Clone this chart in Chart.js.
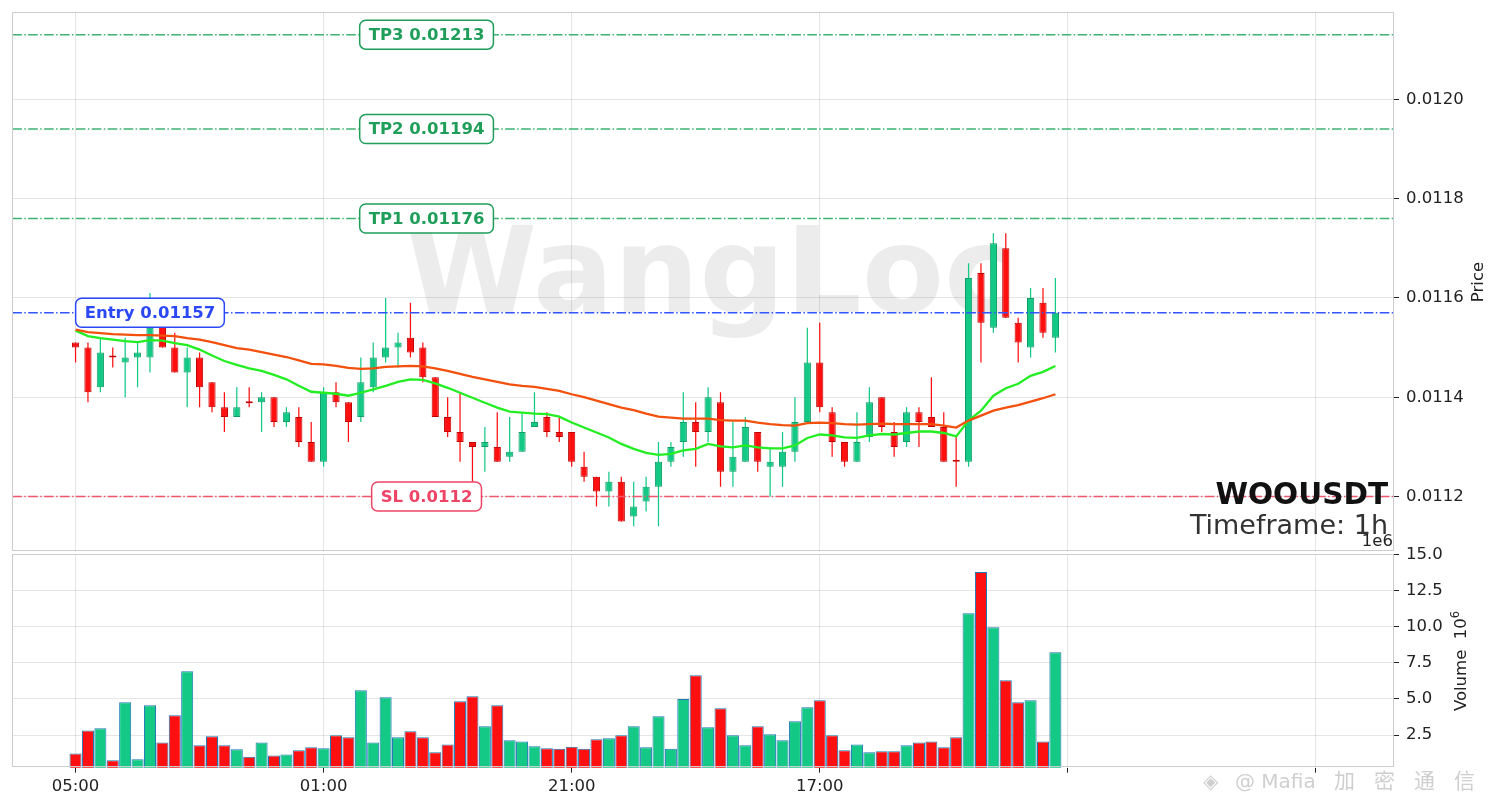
<!DOCTYPE html>
<html>
<head>
<meta charset="utf-8">
<title>WOOUSDT 1h</title>
<script src="https://cdn.jsdelivr.net/npm/chart.js@4.4.1/dist/chart.umd.min.js"></script>
<style>
html, body { margin:0; padding:0; background:#fff; overflow:hidden; }
#wrap { position:relative; width:1501px; height:808px; background:#fff; }
#wrap canvas { position:absolute; left:0; }
#priceCanvas { top:0; }
#volCanvas { top:520px; }
</style>
</head>
<body>
<div id="wrap">
<canvas id="priceCanvas" width="1501" height="553"></canvas>
<canvas id="volCanvas" width="1501" height="288"></canvas>
</div>
<script>
// ---------------- data ----------------
const symbol = 'WOOUSDT';
const timeframe = '1h';
const watermarkText = 'WangLoc';
const footerText = '@ Mafia 加密通信';

const xTickPositions = [0, 20, 40, 60, 80, 100];
const xTickLabels = ['05:00', '01:00', '21:00', '17:00', '', ''];

const opens = [0.01151,0.01150,0.01142,0.011482,0.01147,0.01148,0.01148,0.01155,0.01150,0.01145,
0.01148,0.01143,0.01138,0.01136,0.011392,0.01139,0.01140,0.01135,0.01136,0.01131,
0.01127,0.01141,0.01139,0.01136,0.01142,0.01148,0.01150,0.01152,0.01150,0.01144,
0.01136,0.01133,0.01131,0.01130,0.01130,0.01128,0.01129,0.01134,0.01136,0.01133,
0.01133,0.01126,0.01124,0.01121,0.01123,0.01116,0.01119,0.01122,0.01127,0.01131,
0.01135,0.01133,0.01139,0.01125,0.01127,0.01133,0.01126,0.01126,0.01129,0.01135,
0.01147,0.01137,0.01131,0.01127,0.01132,0.01140,0.01133,0.01131,0.01137,0.01136,
0.01134,0.011272,0.01127,0.01165,0.01154,0.01170,0.01155,0.01150,0.01159,0.01152];

const highs = [0.01151,0.01151,0.01152,0.01150,0.01152,0.01151,0.01161,0.01156,0.01153,0.01150,
0.01149,0.01143,0.01141,0.01142,0.01142,0.01141,0.01140,0.01138,0.01138,0.01135,
0.01142,0.01143,0.01139,0.01148,0.01151,0.01160,0.01153,0.01159,0.01151,0.01144,
0.01140,0.01141,0.01131,0.01134,0.01137,0.01136,0.01137,0.01141,0.01137,0.01136,
0.01133,0.01129,0.01124,0.01125,0.01124,0.01123,0.01124,0.01131,0.01131,0.01141,
0.01139,0.01142,0.01141,0.01135,0.01136,0.01133,0.01130,0.01133,0.01140,0.01154,
0.01155,0.01138,0.01131,0.01137,0.01142,0.01140,0.01135,0.01138,0.01138,0.01144,
0.01137,0.01132,0.01167,0.01167,0.01173,0.01173,0.01156,0.01162,0.01162,0.01164];

const lows = [0.01147,0.01139,0.01141,0.01146,0.01140,0.01142,0.01145,0.01150,0.01145,0.01138,
0.01138,0.01137,0.01133,0.01136,0.01138,0.01133,0.01134,0.01134,0.01130,0.01127,
0.01126,0.01138,0.01131,0.01135,0.01141,0.01147,0.01146,0.01148,0.01143,0.01136,
0.01132,0.01127,0.01123,0.01125,0.01127,0.01127,0.01129,0.01134,0.01132,0.01131,
0.01126,0.01123,0.01118,0.01118,0.01115,0.01114,0.01117,0.01114,0.01126,0.01128,
0.01126,0.01131,0.01122,0.01122,0.01127,0.01125,0.01120,0.01122,0.01127,0.01135,
0.01137,0.01128,0.01126,0.01127,0.01131,0.01133,0.01128,0.01130,0.01130,0.01134,
0.01127,0.01122,0.01126,0.01147,0.01153,0.01156,0.01147,0.01148,0.01152,0.01149];

const closes = [0.01150,0.01141,0.01149,0.01148,0.01148,0.01149,0.01154,0.01150,0.01145,0.01148,
0.01142,0.01138,0.01136,0.01138,0.011388,0.01140,0.01135,0.01137,0.01131,0.01127,
0.01141,0.01139,0.01135,0.01143,0.01148,0.01150,0.01151,0.01149,0.01144,0.01136,
0.01133,0.01131,0.01130,0.01131,0.01127,0.01129,0.01133,0.01135,0.01133,0.01132,
0.01127,0.01124,0.01121,0.01123,0.01115,0.01118,0.01122,0.01127,0.01130,0.01135,
0.01133,0.01140,0.01125,0.01128,0.01134,0.01127,0.01127,0.01129,0.01135,0.01147,
0.01138,0.01131,0.01127,0.01131,0.01139,0.01134,0.01130,0.01137,0.01135,0.01134,
0.01127,0.01127,0.01164,0.01155,0.01171,0.01156,0.01151,0.01160,0.01153,0.01157];

const volumes = [1230000,2820000,2960000,750000,4760000,820000,4560000,1990000,3860000,6910000,
1790000,2410000,1790000,1510000,1000000,1990000,1090000,1160000,1440000,1650000,
1580000,2480000,2340000,5600000,1990000,5110000,2340000,2760000,2340000,1300000,
1850000,4830000,5180000,3100000,4560000,2130000,2060000,1720000,1580000,1550000,
1690000,1550000,2200000,2270000,2480000,3100000,1650000,3790000,1550000,5000000,
6640000,3030000,4350000,2480000,1790000,3100000,2550000,2130000,3450000,4420000,
4900000,2480000,1440000,1850000,1300000,1370000,1370000,1790000,1990000,2060000,
1650000,2340000,10930000,13770000,9950000,6280000,4760000,4900000,2060000,8220000];

const emaFast = [0.011534,0.011523,0.011519,0.011516,0.011513,0.011511,0.011515,0.011514,0.011509,0.011505,
0.011496,0.011484,0.011473,0.011465,0.011458,0.011453,0.011445,0.011436,0.011423,0.011411,
0.011409,0.011407,0.011403,0.011409,0.011416,0.011423,0.011431,0.011436,0.011435,0.011428,
0.011419,0.011409,0.011399,0.011389,0.011379,0.011371,0.011369,0.011367,0.011366,0.011361,
0.011349,0.011339,0.011329,0.011319,0.011306,0.011296,0.011288,0.011284,0.011286,0.011293,
0.011296,0.011306,0.011301,0.011299,0.011303,0.011299,0.011297,0.011297,0.011303,0.011318,
0.011325,0.011323,0.011319,0.011318,0.011323,0.011326,0.011325,0.011328,0.011331,0.011331,
0.011328,0.011321,0.011353,0.011373,0.011403,0.011418,0.011427,0.011443,0.011451,0.011463];

const emaSlow = [0.011536,0.011531,0.011529,0.011527,0.011526,0.011525,0.011525,0.011524,0.011523,0.011519,
0.011516,0.011511,0.011505,0.011499,0.011496,0.011491,0.011486,0.011481,0.011474,0.011467,
0.011466,0.011463,0.011459,0.011457,0.011458,0.011461,0.011462,0.011463,0.011462,0.011458,
0.011453,0.011447,0.011441,0.011436,0.011431,0.011426,0.011423,0.011421,0.011417,0.011413,
0.011406,0.011400,0.011393,0.011386,0.011379,0.011374,0.011367,0.011361,0.011359,0.011357,
0.011357,0.011357,0.011354,0.011353,0.011353,0.011349,0.011346,0.011344,0.011343,0.011348,
0.011349,0.011348,0.011346,0.011345,0.011346,0.011347,0.011346,0.011346,0.011346,0.011346,
0.011343,0.011339,0.011353,0.011363,0.011373,0.011379,0.011384,0.011391,0.011398,0.011406];

const priceTicks = [0.0112, 0.0114, 0.0116, 0.0118, 0.0120];
const volumeTicks = [2500000, 5000000, 7500000, 10000000, 12500000, 15000000];

const levelNames = ['TP3', 'TP2', 'TP1', 'Entry', 'SL'];
const levelValues = [0.01213, 0.01194, 0.01176, 0.01157, 0.0112];

// ---------------- styling / layout ----------------
const X_MIN = -5.1, X_MAX = 106.3;
const P_MIN = 0.011089, P_MAX = 0.012175;
const V_MIN = 240000, V_MAX = 15000000;
const AXIS_W = 107;
const UP = '#13c985', DOWN = '#ff1010';
const UP_EDGE = '#0f9e66', DOWN_EDGE = '#c00000';
const GRID = 'rgba(0,0,0,0.10)';
const FRAME = '#cccccc';
const TXT = '#222222';
const FONT = "'DejaVu Sans', 'Noto Sans CJK SC', sans-serif";
const levelStyle = {
  TP3:   {line: '#3cb371', text: '#1f9e5a', at: 28.3},
  TP2:   {line: '#3cb371', text: '#1f9e5a', at: 28.3},
  TP1:   {line: '#3cb371', text: '#1f9e5a', at: 28.3},
  Entry: {line: '#3355ff', text: '#2a48f5', at: 6.0},
  SL:    {line: '#f0566c', text: '#ee4466', at: 28.3}
};

Chart.defaults.font.family = FONT;
Chart.defaults.font.size = 16.5;
Chart.defaults.color = TXT;

const idx = opens.map((_, i) => i);
const fillColors = idx.map(i => closes[i] >= opens[i] ? UP : DOWN);
const edgeColors = idx.map(i => closes[i] >= opens[i] ? UP_EDGE : DOWN_EDGE);

// ---------------- price chart ----------------
const priceDecor = {
  id: 'priceDecor',
  beforeDraw(chart) {
    const {ctx, chartArea: a} = chart;
    ctx.save();
    ctx.fillStyle = '#fff';
    ctx.fillRect(0, 0, chart.width, chart.height);
    ctx.beginPath();
    ctx.rect(a.left, a.top, a.right - a.left, a.bottom - a.top);
    ctx.clip();
    ctx.font = "bold 120px 'DejaVu Sans'";
    ctx.fillStyle = 'rgba(0,0,0,0.075)';
    ctx.textAlign = 'center';
    ctx.textBaseline = 'alphabetic';
    ctx.fillText(watermarkText, 710, 312);
    ctx.restore();
  },
  afterDatasetsDraw(chart) {
    const {ctx, scales: {x, y}} = chart;
    ctx.save();
    ctx.font = "bold 16.5px 'DejaVu Sans'";
    levelNames.forEach((name, k) => {
      const st = levelStyle[name];
      const txt = name + ' ' + String(levelValues[k]);
      const cx = x.getPixelForValue(st.at);
      const cy = y.getPixelForValue(levelValues[k]);
      const w = ctx.measureText(txt).width + 18, h = 29;
      ctx.beginPath();
      ctx.roundRect(cx - w / 2, cy - h / 2, w, h, 6);
      ctx.fillStyle = '#ffffff';
      ctx.fill();
      ctx.lineWidth = 1.5;
      ctx.strokeStyle = st.text;
      ctx.stroke();
      ctx.fillStyle = st.text;
      ctx.textAlign = 'center';
      ctx.textBaseline = 'middle';
      ctx.fillText(txt, cx, cy + 1);
    });
    ctx.restore();
  },
  afterDraw(chart) {
    const {ctx, chartArea: a} = chart;
    ctx.save();
    ctx.strokeStyle = FRAME;
    ctx.lineWidth = 1;
    ctx.strokeRect(Math.round(a.left) + 0.5, Math.round(a.top) + 0.5,
                   Math.round(a.right - a.left) - 1, Math.round(a.bottom - a.top) - 1);
    // symbol + timeframe
    ctx.textAlign = 'right';
    ctx.textBaseline = 'alphabetic';
    ctx.fillStyle = '#111';
    ctx.font = "bold 29.5px 'DejaVu Sans'";
    ctx.fillText(symbol, a.right - 6, 504);
    ctx.fillStyle = '#333';
    ctx.font = "27px 'DejaVu Sans'";
    ctx.fillText('Timeframe: ' + timeframe, a.right - 6, 534);
    // axis title
    ctx.translate(1479, (a.top + a.bottom) / 2);
    ctx.rotate(-Math.PI / 2);
    ctx.fillStyle = TXT;
    ctx.font = "16.5px 'DejaVu Sans'";
    ctx.textAlign = 'center';
    ctx.textBaseline = 'middle';
    ctx.fillText('Price', 0, 0);
    ctx.restore();
  }
};

const levelDatasets = levelNames.map((name, k) => ({
  type: 'line',
  label: name,
  data: [{x: X_MIN, y: levelValues[k]}, {x: X_MAX, y: levelValues[k]}],
  borderColor: levelStyle[name].line,
  borderWidth: 1.5,
  borderDash: [9.6, 2.4, 1.5, 2.4],
  pointRadius: 0,
  fill: false,
  order: 0
}));

new Chart(document.getElementById('priceCanvas'), {
  type: 'bar',
  data: {
    datasets: [
      {
        label: 'wick',
        data: idx.map(i => ({x: i, y: [lows[i], highs[i]]})),
        backgroundColor: fillColors,
        borderWidth: 0,
        grouped: false,
        barPercentage: 0.1,
        categoryPercentage: 1,
        maxBarThickness: 1.3,
        order: 4
      },
      {
        label: 'body',
        data: idx.map(i => ({x: i, y: [opens[i], closes[i]]})),
        backgroundColor: fillColors,
        borderColor: edgeColors,
        borderWidth: 1,
        borderSkipped: false,
        grouped: false,
        barPercentage: 0.58,
        categoryPercentage: 1,
        minBarLength: 2,
        order: 3
      },
      {
        type: 'line',
        label: 'EMA fast',
        data: idx.map(i => ({x: i, y: emaFast[i]})),
        borderColor: '#22ee22',
        borderWidth: 2.3,
        pointRadius: 0,
        tension: 0,
        order: 2
      },
      {
        type: 'line',
        label: 'EMA slow',
        data: idx.map(i => ({x: i, y: emaSlow[i]})),
        borderColor: '#f2500c',
        borderWidth: 2.3,
        pointRadius: 0,
        tension: 0,
        order: 1
      },
      ...levelDatasets
    ]
  },
  options: {
    responsive: false,
    animation: false,
    devicePixelRatio: 1,
    layout: {padding: {top: 12.3, left: 12.3, right: 0, bottom: 1.3}},
    plugins: {legend: {display: false}, tooltip: {enabled: false}},
    scales: {
      x: {
        type: 'linear',
        min: X_MIN, max: X_MAX,
        offset: false,
        grid: {color: GRID, drawTicks: false, offset: false},
        border: {display: false},
        ticks: {display: false},
        afterBuildTicks: s => { s.ticks = xTickPositions.map(v => ({value: v})); },
        afterFit: s => { s.height = 0; s.paddingLeft = 0; s.paddingRight = 0; }
      },
      y: {
        type: 'linear',
        position: 'right',
        min: P_MIN, max: P_MAX,
        grid: {color: GRID, drawTicks: true, tickLength: 5, tickColor: TXT},
        border: {display: false},
        ticks: {padding: 7, color: TXT, callback: v => Number(v).toFixed(4)},
        afterBuildTicks: s => { s.ticks = priceTicks.map(v => ({value: v})); },
        afterFit: s => { s.width = AXIS_W; s.paddingTop = 0; s.paddingBottom = 0; }
      }
    }
  },
  plugins: [priceDecor]
});

// ---------------- volume chart ----------------
const volDecor = {
  id: 'volDecor',
  afterDraw(chart) {
    const {ctx, chartArea: a} = chart;
    ctx.save();
    ctx.strokeStyle = FRAME;
    ctx.lineWidth = 1;
    ctx.strokeRect(Math.round(a.left) + 0.5, Math.round(a.top) + 0.5,
                   Math.round(a.right - a.left) - 1, Math.round(a.bottom - a.top) - 1);
    // offset text
    ctx.fillStyle = TXT;
    ctx.font = "16.5px 'DejaVu Sans'";
    ctx.textAlign = 'right';
    ctx.textBaseline = 'middle';
    ctx.fillText('1e6', a.right - 1, a.top - 12.6);
    // axis title "Volume 10^6"
    ctx.save();
    ctx.translate(1461, (a.top + a.bottom) / 2);
    ctx.rotate(-Math.PI / 2);
    ctx.textAlign = 'left';
    ctx.textBaseline = 'middle';
    ctx.font = "16.5px 'DejaVu Sans'";
    const w1 = ctx.measureText('Volume  ').width;
    const w2 = ctx.measureText('10').width;
    ctx.font = "11.5px 'DejaVu Sans'";
    const w3 = ctx.measureText('6').width;
    const start = -(w1 + w2 + w3) / 2;
    ctx.font = "16.5px 'DejaVu Sans'";
    ctx.fillText('Volume  10', start, 1);
    ctx.font = "11.5px 'DejaVu Sans'";
    ctx.fillText('6', start + w1 + w2, -5);
    ctx.restore();
    // footer watermark
    ctx.fillStyle = '#cfcfcf';
    ctx.textAlign = 'left';
    ctx.textBaseline = 'alphabetic';
    ctx.font = "20px 'DejaVu Sans', 'Noto Sans CJK SC'";
    ctx.fillText('◈', 1203, 268);
    const parts = footerText.split(' ');
    ctx.fillText(parts[0] + ' ' + parts[1], 1235, 268);
    const cjk = Array.from(parts[2]);
    ctx.font = "21px 'Noto Sans CJK SC'";
    cjk.forEach((ch, k) => ctx.fillText(ch, 1334 + k * 40, 268));
    ctx.restore();
  }
};

new Chart(document.getElementById('volCanvas'), {
  type: 'bar',
  data: {
    datasets: [{
      label: 'Volume',
      data: idx.map(i => ({x: i, y: volumes[i]})),
      backgroundColor: fillColors,
      borderColor: '#1f77b4',
      borderWidth: 1,
      borderSkipped: false,
      grouped: false,
      barPercentage: 0.97,
      categoryPercentage: 1
    }]
  },
  options: {
    responsive: false,
    animation: false,
    devicePixelRatio: 1,
    layout: {padding: {top: 34.3, left: 12.3, right: 0, bottom: 0}},
    plugins: {legend: {display: false}, tooltip: {enabled: false}},
    scales: {
      x: {
        type: 'linear',
        min: X_MIN, max: X_MAX,
        offset: false,
        grid: {color: GRID, drawTicks: true, tickLength: 5, tickColor: TXT, offset: false},
        border: {display: false},
        ticks: {
          padding: 4,
          color: TXT,
          maxRotation: 0,
          autoSkip: false,
          callback: v => { const k = xTickPositions.indexOf(v); return k >= 0 ? xTickLabels[k] : ''; }
        },
        afterBuildTicks: s => { s.ticks = xTickPositions.map(v => ({value: v})); },
        afterFit: s => { s.height = 40.3; s.paddingLeft = 0; s.paddingRight = 0; }
      },
      y: {
        type: 'linear',
        position: 'right',
        min: V_MIN, max: V_MAX,
        grid: {color: GRID, drawTicks: true, tickLength: 5, tickColor: TXT},
        border: {display: false},
        ticks: {padding: 7, color: TXT, callback: v => (Number(v) / 1e6).toFixed(1)},
        afterBuildTicks: s => { s.ticks = volumeTicks.map(v => ({value: v})); },
        afterFit: s => { s.width = AXIS_W; s.paddingTop = 0; s.paddingBottom = 0; }
      }
    }
  },
  plugins: [volDecor]
});
</script>
</body>
</html>
